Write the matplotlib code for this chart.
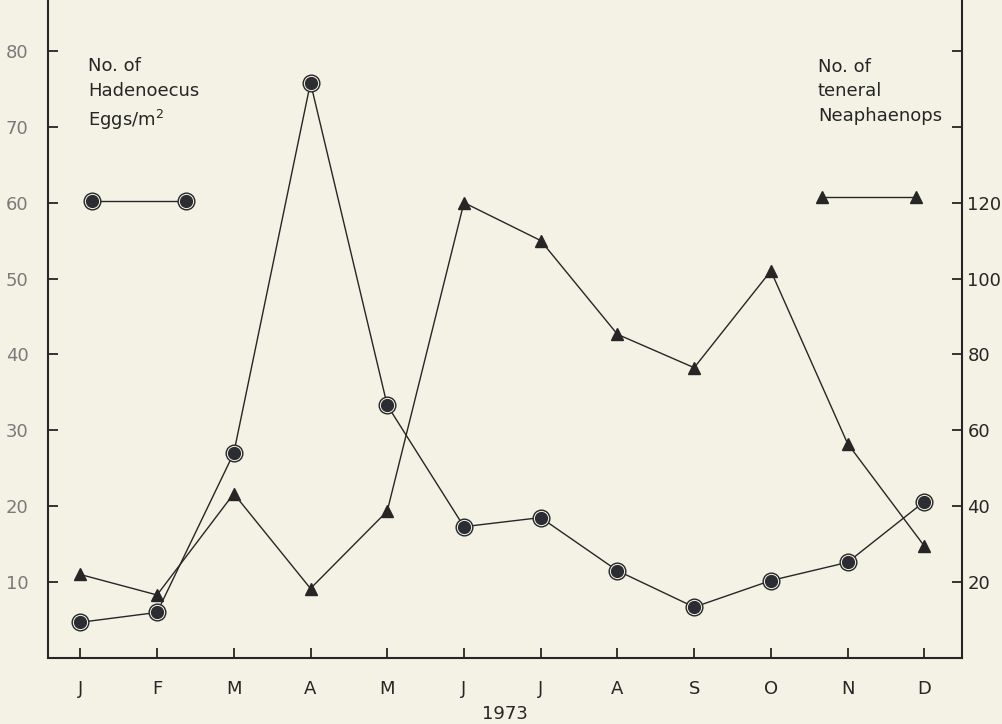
import numpy as np
import matplotlib
matplotlib.use("Agg")
import matplotlib.pyplot as plt
from matplotlib.legend_handler import HandlerTuple

# values
months = ["J", "F", "M", "A", "M", "J", "J", "A", "S", "O", "N", "D"]
hadenoecus_eggs = [4.7, 6.0, 27.0, 75.8, 33.3, 17.3, 18.5, 11.5, 6.7, 10.2, 12.6, 20.6]
neaphaenops_teneral = [22.0, 16.6, 43.3, 18.3, 38.7, 120.0, 110.0, 85.3, 76.5, 102.0, 56.5, 29.5]
left_ticks = [10, 20, 30, 40, 50, 60, 70, 80]
right_ticks = [20, 40, 60, 80, 100, 120, 140, 160]
right_labels = ["20", "40", "60", "80", "100", "120", "", ""]
year = "1973"
eggs_label = "No. of\nHadenoecus\nEggs/m$^2$"
teneral_label = "No. of\nteneral\nNeaphaenops"

paper = "#f3f2e5"
ink = "#262626"
fs = 13

fig = plt.figure(figsize=(10.02, 7.24), dpi=100, facecolor=paper)
ax = fig.add_axes([0.048, 0.0912, 0.912, 0.9088])
ax.set_facecolor("none")
ax2 = ax.twinx()
x = np.arange(len(months))

# eggs: line, open ring, filled dot
line_e, = ax.plot(x, hadenoecus_eggs, color=ink, lw=1.0, zorder=2)
ring_e, = ax.plot(x, hadenoecus_eggs, ls="none", marker="o", ms=12,
                  mfc=paper, mec=ink, mew=1.0, zorder=3)
dot_e, = ax.plot(x, hadenoecus_eggs, ls="none", marker="o", ms=8.5,
                 mfc="#2c2c33", mec="#2c2c33", zorder=4)

# teneral beetles: line with triangles
line_t, = ax2.plot(x, neaphaenops_teneral, color=ink, lw=1.0, marker="^",
                   ms=9, mfc=ink, mec=ink, zorder=3)

ax.set_xlim(-0.42, 11.49)
ax.set_ylim(0, 86.7)
ax2.set_ylim(0, 173.4)

ax.set_xticks(x)
ax.set_xticklabels(months)
ax.set_yticks(left_ticks)
ax2.set_yticks(right_ticks)
ax2.set_yticklabels(right_labels)

ax.tick_params(axis="y", direction="in", length=7, width=1.3, pad=14,
               labelsize=fs, labelcolor="#7a7a7a", color=ink)
ax.tick_params(axis="x", direction="in", length=7, width=1.3, pad=16,
               labelsize=fs, labelcolor=ink, color=ink)
ax2.tick_params(axis="y", direction="in", length=7, width=1.3, pad=4,
                labelsize=fs, labelcolor=ink, color=ink)

for s in ["top", "right"]:
    ax.spines[s].set_visible(False)
for s in ["top", "left", "bottom"]:
    ax2.spines[s].set_visible(False)
for sp in [ax.spines["left"], ax.spines["bottom"], ax2.spines["right"]]:
    sp.set_linewidth(1.5)
    sp.set_color(ink)

ax.set_xlabel(year, fontsize=fs, color=ink, labelpad=5)

ax.text(0.044, 0.913, eggs_label, transform=ax.transAxes, fontsize=fs,
        color=ink, va="top", ha="left", linespacing=1.45)
ax2.text(0.8425, 0.912, teneral_label, transform=ax2.transAxes, fontsize=fs,
         color=ink, va="top", ha="left", linespacing=1.45)

# symbol keys
ax.legend([(line_e, ring_e, dot_e)], [""], handler_map={tuple: HandlerTuple(ndivide=1)},
          loc="center left", bbox_to_anchor=(0.0422, 0.692), frameon=False,
          handlelength=5.8, borderpad=0, borderaxespad=0, handletextpad=0,
          numpoints=2, fontsize=fs)
ax2.legend([line_t], [""], loc="center left", bbox_to_anchor=(0.8407, 0.6985),
           frameon=False, handlelength=5.8, borderpad=0, borderaxespad=0,
           handletextpad=0, numpoints=2, fontsize=fs)

fig.savefig("out.png", dpi=100, facecolor=paper)
